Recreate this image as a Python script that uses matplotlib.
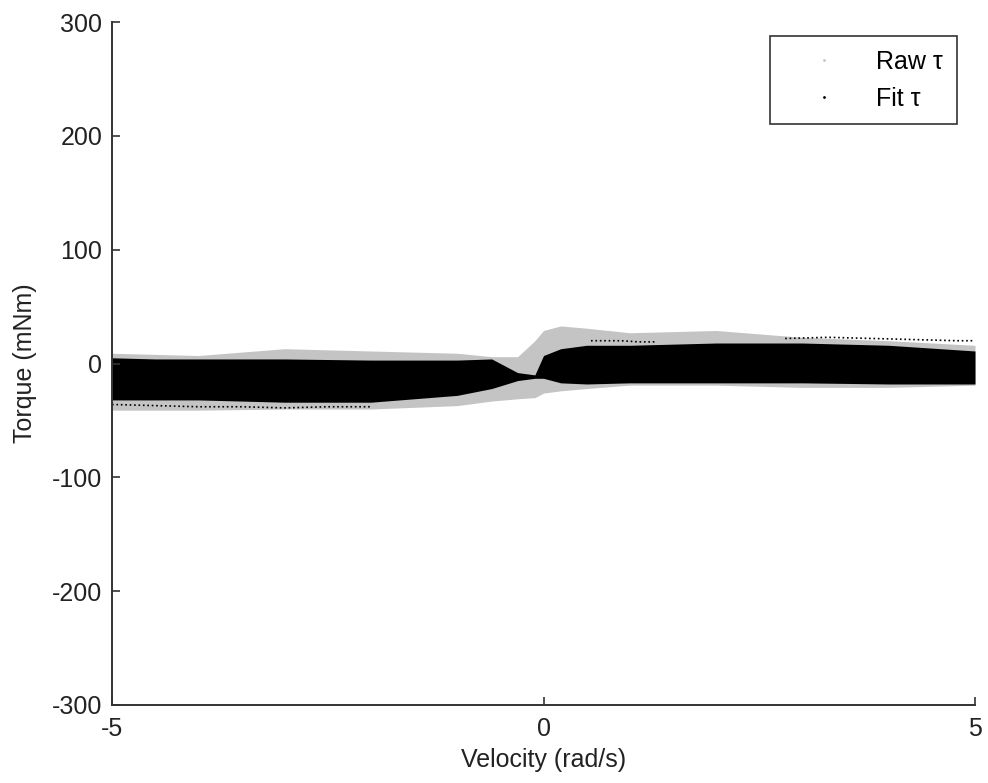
import matplotlib.pyplot as plt
from matplotlib.lines import Line2D

plt.rcParams['font.family'] = ['Liberation Sans', 'DejaVu Sans']
plt.rcParams['axes.unicode_minus'] = False

# velocity samples (rad/s) where the band edges were taken
vel = [-5, -4.5, -4, -3, -2, -1, -0.6, -0.3, -0.1, 0.0, 0.2, 0.5, 1, 2, 3, 4, 5]

# raw torque band (mNm)
raw_hi = [9, 8, 7, 13, 11, 9, 6, 6, 20, 29, 33, 31, 27, 29, 23, 20, 16]
raw_lo = [-41, -41, -41, -40, -40, -37, -33, -31, -30, -26, -24, -22, -19, -19, -21, -21, -19]

# fitted torque band (mNm)
fit_hi = [5, 4, 4, 4, 3, 3, 4, -8, -10, 7, 13, 16, 16, 18, 18, 16, 11]
fit_lo = [-32, -32, -32, -34, -34, -28, -22, -15, -13, -13, -17, -18, -17, -17, -17, -18, -18]

# a few loose fit traces that stick out of the dense band
trace_v1 = [2.8, 3.3, 3.8, 4.3, 4.8, 5.0]
trace_t1 = [22, 23, 22, 21, 20, 20]
trace_v2 = [-5, -4.5, -4, -3.5, -3, -2.5, -2]
trace_t2 = [-36, -37, -38, -38, -39, -38, -38]
trace_v3 = [0.55, 0.7, 0.9, 1.1, 1.3]
trace_t3 = [20, 20, 20, 19, 19]

fig = plt.figure(figsize=(9.88, 7.83), dpi=100)
ax = fig.add_axes([112 / 988, 78 / 783, 863 / 988, 683 / 783])

ax.fill_between(vel, raw_lo, raw_hi, color='#c4c4c4', lw=0)
ax.fill_between(vel, fit_lo, fit_hi, color='black', lw=0)
ax.plot(trace_v1, trace_t1, ':', color='black', lw=1.2)
ax.plot(trace_v2, trace_t2, ':', color='black', lw=1.2)
ax.plot(trace_v3, trace_t3, ':', color='black', lw=1.2)

ax.set_xlim(-5, 5)
ax.set_ylim(-300, 300)
ax.set_xticks([-5, 0, 5])
ax.set_yticks([-300, -200, -100, 0, 100, 200, 300])
ax.spines['top'].set_visible(False)
ax.spines['right'].set_visible(False)
for s in ['left', 'bottom']:
    ax.spines[s].set_color('#333333')
    ax.spines[s].set_linewidth(1.4)
ax.tick_params(direction='in', length=6, width=1.2, color='#333333',
               labelsize=18, labelcolor='#222222')
ax.tick_params(axis='y', pad=7)
ax.tick_params(axis='x', pad=9)
ax.set_xlabel('Velocity (rad/s)', fontsize=18, color='#222222', labelpad=5)
ax.set_ylabel('Torque (mNm)', fontsize=18, color='#222222', labelpad=11)

handles = [Line2D([], [], ls='none', marker='.', ms=2, color='#c4c4c4'),
           Line2D([], [], ls='none', marker='.', ms=2, color='black')]
leg = ax.legend(handles, ['Raw \u03c4', 'Fit \u03c4'], loc='upper right',
                bbox_to_anchor=(0.979, 0.979), borderaxespad=0, fontsize=18,
                frameon=True, fancybox=False, handlelength=3.2,
                handletextpad=0.5, borderpad=0.55, labelspacing=0.5)
leg.get_frame().set_edgecolor('black')
leg.get_frame().set_linewidth(1.2)

fig.savefig('out.png', dpi=100)
